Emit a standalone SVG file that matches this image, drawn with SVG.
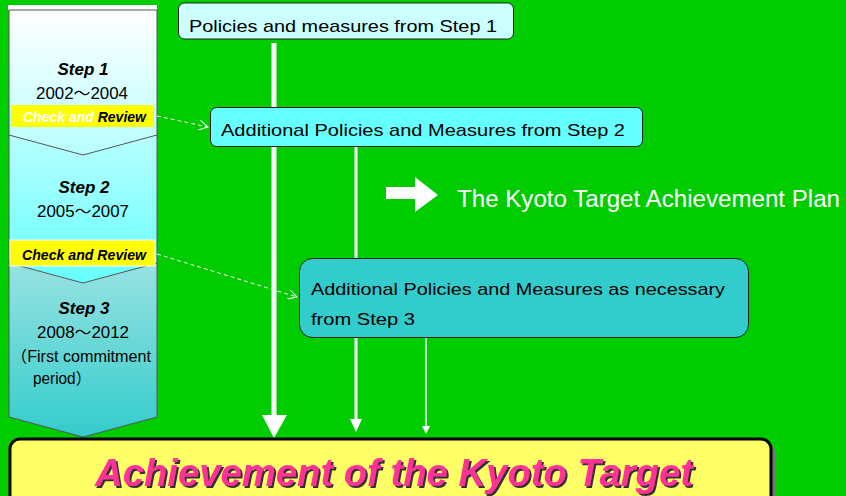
<svg xmlns="http://www.w3.org/2000/svg" width="846" height="496" viewBox="0 0 846 496">
<defs>
<linearGradient id="g1" x1="0" y1="0" x2="0" y2="1"><stop offset="0" stop-color="#FFFFFF"/><stop offset="1" stop-color="#B8FFFF"/></linearGradient>
<linearGradient id="g2" x1="0" y1="0" x2="0" y2="1"><stop offset="0" stop-color="#B8FFFF"/><stop offset="1" stop-color="#66FFFF"/></linearGradient>
<linearGradient id="g3" x1="0" y1="0" x2="0" y2="1"><stop offset="0" stop-color="#99E2E2"/><stop offset="1" stop-color="#33CCCC"/></linearGradient>
<marker id="open" viewBox="0 0 10 10" refX="9" refY="5" markerWidth="10" markerHeight="10" markerUnits="userSpaceOnUse" orient="auto"><path d="M0,0 L9,5 L0,10" fill="none" stroke="#FFFFFF" stroke-width="1"/></marker>
<filter id="shadow" x="-5%" y="-20%" width="110%" height="140%">
<feFlood flood-color="#333333" result="c"/>
<feComposite in="c" in2="SourceAlpha" operator="in" result="s"/>
<feOffset in="s" dx="2" dy="2" result="o"/>
<feMerge><feMergeNode in="o"/><feMergeNode in="SourceGraphic"/></feMerge>
</filter>
</defs>
<style>
.chev{stroke:#555555;stroke-width:1}
.step{font-family:"Liberation Sans",Arial,sans-serif;font-weight:bold;font-style:italic;font-size:17px;fill:#000;text-anchor:middle}
.yr{font-family:"Liberation Sans","Noto Sans CJK JP",sans-serif;font-size:16px;fill:#000}
.cr{font-family:"Liberation Sans",Arial,sans-serif;font-weight:bold;font-style:italic;font-size:14px}
.box{stroke:#222222;stroke-width:1}
.lbl{font-family:"Liberation Sans","Noto Sans CJK JP",sans-serif;font-size:17px;fill:#000}
.wl{stroke:#FFFFFF;fill:none}
.dash{stroke:#FFFFFF;stroke-width:1;stroke-dasharray:4,3;fill:none}
</style>
<rect x="0" y="0" width="846" height="496" fill="#00CC00"/>

<g id="step3">
<polygon class="chev" points="9,263 157,263 157,417 83,437 9,417" fill="url(#g3)"/>
<text class="step" x="84" y="314">Step 3</text>
<text class="yr" x="37" y="338" textLength="92" lengthAdjust="spacingAndGlyphs">2008～2012</text>
<text class="yr" x="11" y="362" textLength="140" lengthAdjust="spacingAndGlyphs">（First commitment</text>
<text class="yr" x="33" y="384" textLength="58" lengthAdjust="spacingAndGlyphs">period）</text>
</g>

<g id="step2">
<polygon class="chev" points="9,135 157,135 157,263 83,283 9,263" fill="url(#g2)"/>
<text class="step" x="84" y="193">Step 2</text>
<text class="yr" x="37" y="217" textLength="92" lengthAdjust="spacingAndGlyphs">2005～2007</text>
<rect x="10" y="240" width="145" height="26" fill="#FFFF00" stroke="#FFFFFF" stroke-width="1"/>
<text class="cr" x="22" y="260" textLength="124" lengthAdjust="spacingAndGlyphs" fill="#000">Check and Review</text>
</g>

<g id="step1">
<rect x="8" y="5" width="149" height="5" fill="#FFFFFF"/>
<polygon class="chev" points="9,10 157,10 157,135 83,155 9,135" fill="url(#g1)"/>
<text class="step" x="83" y="75">Step 1</text>
<text class="yr" x="36" y="99" textLength="92" lengthAdjust="spacingAndGlyphs">2002～2004</text>
<rect x="11" y="105" width="143" height="22" fill="#FFFF00"/>
<text class="cr" x="23" y="122"><tspan fill="#FFFFFF">Check and </tspan><tspan fill="#000000">Review</tspan></text>
</g>

<g id="connectors">
<line class="wl" x1="274" y1="43" x2="274" y2="417" stroke-width="5"/>
<polygon points="262,415 287,415 274,438" fill="#FFFFFF"/>
<line class="wl" x1="356" y1="147" x2="356" y2="421" stroke-width="3"/>
<polygon points="350,419 362,419 356,432" fill="#FFFFFF"/>
<line class="wl" x1="426" y1="338" x2="426" y2="427" stroke-width="1.5"/>
<polygon points="422,426 430,426 426,434" fill="#FFFFFF"/>
<line class="dash" x1="157" y1="116" x2="208" y2="127" marker-end="url(#open)"/>
<line class="dash" x1="157" y1="254" x2="297" y2="297" marker-end="url(#open)"/>
</g>

<g id="box1">
<rect class="box" x="178.500" y="3" width="335" height="36" rx="6" fill="#CCFFFF"/>
<text class="lbl" x="189" y="32" textLength="308" lengthAdjust="spacingAndGlyphs">Policies and measures from Step 1</text>
</g>

<g id="box2">
<rect class="box" x="210.500" y="107.500" width="432" height="39" rx="6" fill="#66FFFF"/>
<text class="lbl" x="221" y="136" textLength="404" lengthAdjust="spacingAndGlyphs">Additional Policies and Measures from Step 2</text>
</g>

<g id="box3">
<rect class="box" x="299.500" y="258.500" width="449" height="79" rx="13" fill="#33CCCC"/>
<text class="lbl" x="311" y="295" textLength="414" lengthAdjust="spacingAndGlyphs">Additional Policies and Measures as necessary</text>
<text class="lbl" x="311" y="325" textLength="104" lengthAdjust="spacingAndGlyphs">from Step 3</text>
</g>

<g id="plan">
<polygon points="386,187 415,187 415,177 438,195 415,212 415,199 386,199" fill="#FFFFFF"/>
<text x="457" y="207" font-family="'Liberation Sans',Arial,sans-serif" font-size="23" fill="#FFFFFF" textLength="383" lengthAdjust="spacingAndGlyphs">The Kyoto Target Achievement Plan</text>
</g>

<g id="target">
<rect x="13" y="442" width="762" height="70" rx="10" fill="#777777"/>
<rect x="10" y="439" width="761" height="70" rx="10" fill="#FFFF66" stroke="#000000" stroke-width="3"/>
<text x="95" y="486" font-family="'Liberation Sans',Arial,sans-serif" font-weight="bold" font-style="italic" font-size="38" fill="#FF3399" textLength="598" lengthAdjust="spacingAndGlyphs" filter="url(#shadow)">Achievement of the Kyoto Target</text>
</g>
</svg>
